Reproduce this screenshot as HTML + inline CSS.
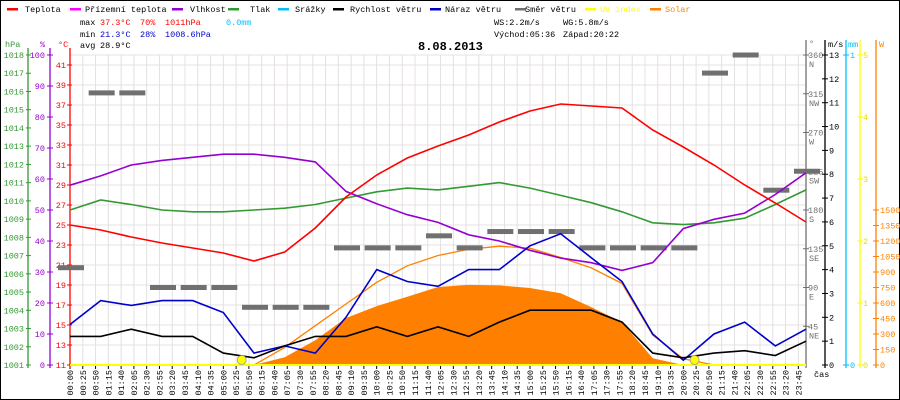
<!DOCTYPE html>
<html><head><meta charset="utf-8">
<style>
html,body{margin:0;padding:0;background:#fff}
svg{display:block;font-family:"Liberation Mono","DejaVu Sans Mono",monospace;font-size:8.5px}
</style></head>
<body>
<svg id="chart" width="900" height="400" viewBox="0 0 900 400" xmlns="http://www.w3.org/2000/svg">
<rect x="0.5" y="0.5" width="899" height="399" fill="#fff" stroke="#000"/>
<g id="legend"></g>
<g>
<text x="80" y="25" fill="#000">max</text><text x="100" y="25" fill="#f00">37.3°C</text><text x="140" y="25" fill="#f00">70%</text><text x="165" y="25" fill="#f00">1011hPa</text><text x="226" y="25" fill="#00bfff">0.0mm</text>
<text x="80" y="37" fill="#000">min</text><text x="100" y="37" fill="#0000cc">21.3°C</text><text x="140" y="37" fill="#0000cc">28%</text><text x="165" y="37" fill="#0000cc">1008.6hPa</text>
<text x="80" y="48" fill="#000">avg</text><text x="100" y="48" fill="#000">28.9°C</text>
<text x="494" y="25" fill="#000">WS:2.2m/s</text><text x="563" y="25" fill="#000">WG:5.8m/s</text>
<text x="494" y="37" fill="#000">Východ:05:36</text><text x="563" y="37" fill="#000">Západ:20:22</text>
</g>
<text x="418" y="50" font-size="12" font-weight="bold" fill="#000">8.08.2013</text>
<g id="grid"></g>
<g id="axes"></g>
<g id="series"></g>
</svg>
<script>
const hours=[0,1,2,3,4,5,6,7,8,9,10,11,12,13,14,15,16,17,18,19,20,21,22,23,24];
const temperature=[25.0,24.5,23.8,23.2,22.7,22.2,21.4,22.3,24.7,27.8,30.0,31.7,32.9,34.0,35.3,36.4,37.1,36.9,36.7,34.5,32.8,31.0,29.0,27.2,25.3];
const humidity=[58,61,64.5,66,67,68,68,67,65.5,56,52,48.5,46,42,40,37,34.5,33,30.5,33,44,47,49,55,62];
const pressure=[1009.5,1010.05,1009.8,1009.5,1009.4,1009.4,1009.5,1009.6,1009.8,1010.15,1010.5,1010.7,1010.6,1010.8,1011.0,1010.7,1010.3,1009.9,1009.4,1008.8,1008.7,1008.8,1009.05,1009.8,1010.6];
const windSpeed=[1.2,1.2,1.5,1.2,1.2,0.5,0.3,0.8,1.2,1.2,1.6,1.2,1.6,1.2,1.8,2.3,2.3,2.3,1.8,0.5,0.3,0.5,0.6,0.4,1.0];
const windGust=[1.7,2.7,2.5,2.7,2.7,2.2,0.5,0.8,0.5,2.0,4.0,3.5,3.3,4.0,4.0,5.0,5.5,4.5,3.5,1.3,0.2,1.3,1.8,0.8,1.5];
const windDir=[113,316,316,90,90,90,67,67,67,136,136,136,150,136,155,155,155,136,136,136,136,339,360,203,225];
const solar=[0,0,0,0,0,0,0,75,240,455,570,660,755,775,770,745,695,560,415,65,0,0,0,0,0];
const solarMax=[0,0,0,0,0,0,0,170,380,590,800,960,1060,1120,1150,1130,1040,940,790,290,60,0,0,0,0];
const sunEvents=[336,1222];
const xTickMinutes=[];for(let m=0;m<1440;m+=25)xTickMinutes.push(m);
const hpaTicks=[1001,1002,1003,1004,1005,1006,1007,1008,1009,1010,1011,1012,1013,1014,1015,1016,1017,1018];
const pctTicks=[0,10,20,30,40,50,60,70,80,90,100];
const tempTicks=[11,13,15,17,19,21,23,25,27,29,31,33,35,37,39,41];
const dirTicks=[45,90,135,180,225,270,315,360];
const dirNames=["NE","E","SE","S","SW","W","NW","N"];
const msTicks=[0,1,2,3,4,5,6,7,8,9,10,11,12,13];
const uvTicks=[0,1,2,3,4,5];
const wTicks=[0,150,300,450,600,750,900,1050,1200,1350,1500];

const NS="http://www.w3.org/2000/svg";
const X=m=>70+m*736/1440, XH=h=>X(h*60);
const yC=c=>365-(c-11)*10, yP=p=>365-(p-1001)*310/17, yH=h=>365-h*3.1;
const yV=v=>365-v*310/13, yD=d=>365-d*310/360, yW=w=>365-w*155/1500, yM=v=>365-v*310, yU=v=>365-v*62;
function mk(tag,attrs,parent,txt){const e=document.createElementNS(NS,tag);for(const k in attrs)e.setAttribute(k,attrs[k]);if(txt!==undefined)e.textContent=txt;parent.appendChild(e);return e;}
const grid=document.getElementById('grid'),axes=document.getElementById('axes'),series=document.getElementById('series'),legend=document.getElementById('legend');

const legItems=[["Teplota","#f00",7,25],["Přízemní teplota","#f0f",70,85],["Vlhkost","#9400d3",172,190],["Tlak","#339933",228,250],["Srážky","#00bfff",278,295],["Rychlost větru","#000",333,350],["Náraz větru","#0000cc",430,445],["Směr větru","#707070",515,525],["UV index","#ffff00",585,600],["Solar","#ff8000",650,665]];
legItems.forEach(it=>{
  const g=mk('g',{},legend);
  
  
  mk('rect',{x:it[2],y:8,width:11,height:2.5,fill:it[1]},g);
  mk('text',{x:it[3],y:12,fill:(it[0]==="UV index"||it[0]==="Solar")?it[1]:"#000"},g,it[0]);
});

xTickMinutes.forEach(m=>{
  const l=mk('line',{x1:X(m),x2:X(m),y1:55,y2:365,stroke:'#e4e0e0','stroke-width':1},grid);
  
  
});
tempTicks.forEach(c=>{
  const l=mk('line',{x1:70,x2:806,y1:yC(c),y2:yC(c),stroke:'#e4e0e0','stroke-width':1},grid);
  
  
});
mk('line',{x1:70,x2:806,y1:55,y2:55,stroke:'#e4e0e0'},grid);

xTickMinutes.forEach(m=>{
  const hh=String(Math.floor(m/60)).padStart(2,'0'),mm=String(m%60).padStart(2,'0');
  const x=X(m);
  mk('line',{x1:x,x2:x,y1:365,y2:369,stroke:'#000'},axes);
  const t=mk('text',{x:0,y:0,transform:`translate(${x+3},370) rotate(-90)`,'text-anchor':'end',fill:'#000'},axes,hh+":"+mm);
  
  
});
mk('text',{x:814,y:377,fill:'#000'},axes,'čas');

function vAxis(x,col,y1,y2){mk('line',{x1:x,x2:x,y1:y1,y2:y2,stroke:col,'stroke-width':1.3},axes);}
vAxis(28,'#339933',48,368);vAxis(50,'#9400d3',48,368);vAxis(70,'#f00',48,368);
mk('text',{x:5,y:47,fill:'#339933'},axes,'hPa');
mk('text',{x:40,y:47,fill:'#9400d3'},axes,'%');
mk('text',{x:58,y:47,fill:'#f00'},axes,'°C');
hpaTicks.forEach(p=>{const y=yP(p);mk('line',{x1:26,x2:31,y1:y,y2:y,stroke:'#339933'},axes);
  const t=mk('text',{x:24,y:y+3,'text-anchor':'end',fill:'#339933'},axes,p);
  
  });
pctTicks.forEach(p=>{const y=yH(p);mk('line',{x1:47,x2:53,y1:y,y2:y,stroke:'#9400d3'},axes);
  const t=mk('text',{x:45,y:y+3,'text-anchor':'end',fill:'#9400d3'},axes,p);
  
  });
tempTicks.forEach(c=>{const y=yC(c);mk('line',{x1:67,x2:72,y1:y,y2:y,stroke:'#f00'},axes);
  const t=mk('text',{x:66,y:y+3,'text-anchor':'end',fill:'#f00'},axes,c);
  
  });

vAxis(806,'#707070',40,368);vAxis(825,'#000',40,368);vAxis(846,'#00bfff',40,368);vAxis(860,'#ffff00',40,368);vAxis(876,'#ff8000',40,368);
mk('text',{x:809,y:46,fill:'#707070'},axes,'°');
mk('text',{x:828,y:47,fill:'#000'},axes,'m/s');
mk('text',{x:848,y:47,fill:'#00bfff'},axes,'mm');
mk('text',{x:879,y:47,fill:'#ff8000'},axes,'W');
dirTicks.forEach((d,i)=>{const y=yD(d);mk('line',{x1:803,x2:809,y1:y,y2:y,stroke:'#707070'},axes);
  const t=mk('text',{x:808,y:y+3,fill:'#707070'},axes,d);
  
  
  mk('text',{x:809,y:y+12,fill:'#707070'},axes,dirNames[i]);});
msTicks.forEach(v=>{const y=yV(v);mk('line',{x1:822,x2:828,y1:y,y2:y,stroke:'#000'},axes);
  const t=mk('text',{x:829,y:y+3,fill:'#000'},axes,v);
  
  });
[0,1].forEach(v=>{const y=yM(v);mk('line',{x1:843,x2:849,y1:y,y2:y,stroke:'#00bfff'},axes);
  mk('text',{x:850,y:y+3,fill:'#00bfff'},axes,v);});
uvTicks.forEach(v=>{const y=yU(v);mk('line',{x1:857,x2:863,y1:y,y2:y,stroke:'#ffff00'},axes);
  mk('text',{x:863,y:y+3,fill:'#e0e000'},axes,v);});
wTicks.forEach(v=>{const y=yW(v);mk('line',{x1:873,x2:879,y1:y,y2:y,stroke:'#ff8000'},axes);
  const t=mk('text',{x:880,y:y+3,fill:'#ff8000'},axes,v);
  
  });

const pts=(arr,fy)=>arr.map((v,i)=>XH(hours[i]).toFixed(1)+","+fy(v).toFixed(1)).join(" ");
const area=mk('polygon',{points:XH(0)+",365 "+pts(solar,yW)+" "+XH(24)+",365",fill:'#ff8000'},series);


const sm=mk('polyline',{points:pts(solarMax,yW),fill:'none',stroke:'#ff8000','stroke-width':1.3},series);


windDir.forEach((d,i)=>{
  const r=mk('rect',{x:XH(hours[i])-12,y:yD(d)-2.5,width:26,height:5,fill:'#707070'},series);
  
  
});
const lines=[[pressure,yP,'#339933','pressure-line'],[humidity,yH,'#9400d3','humidity-line'],[temperature,yC,'#f00','temperature-line'],[windGust,yV,'#0000cc','wind-gust-line'],[windSpeed,yV,'#000','wind-speed-line']];
lines.forEach(L=>{
  const p=mk('polyline',{points:pts(L[0],L[1]),fill:'none',stroke:L[2],'stroke-width':1.6},series);
  
  
});
mk('line',{x1:70,x2:806,y1:365,y2:365,stroke:'#ffff00','stroke-width':2},series);
sunEvents.forEach(m=>{
  const c=mk('circle',{cx:X(m),cy:360,r:4.5,fill:'#ffff00',stroke:'#999','stroke-width':0.8},series);
  
  
});
</script>
</body></html>
